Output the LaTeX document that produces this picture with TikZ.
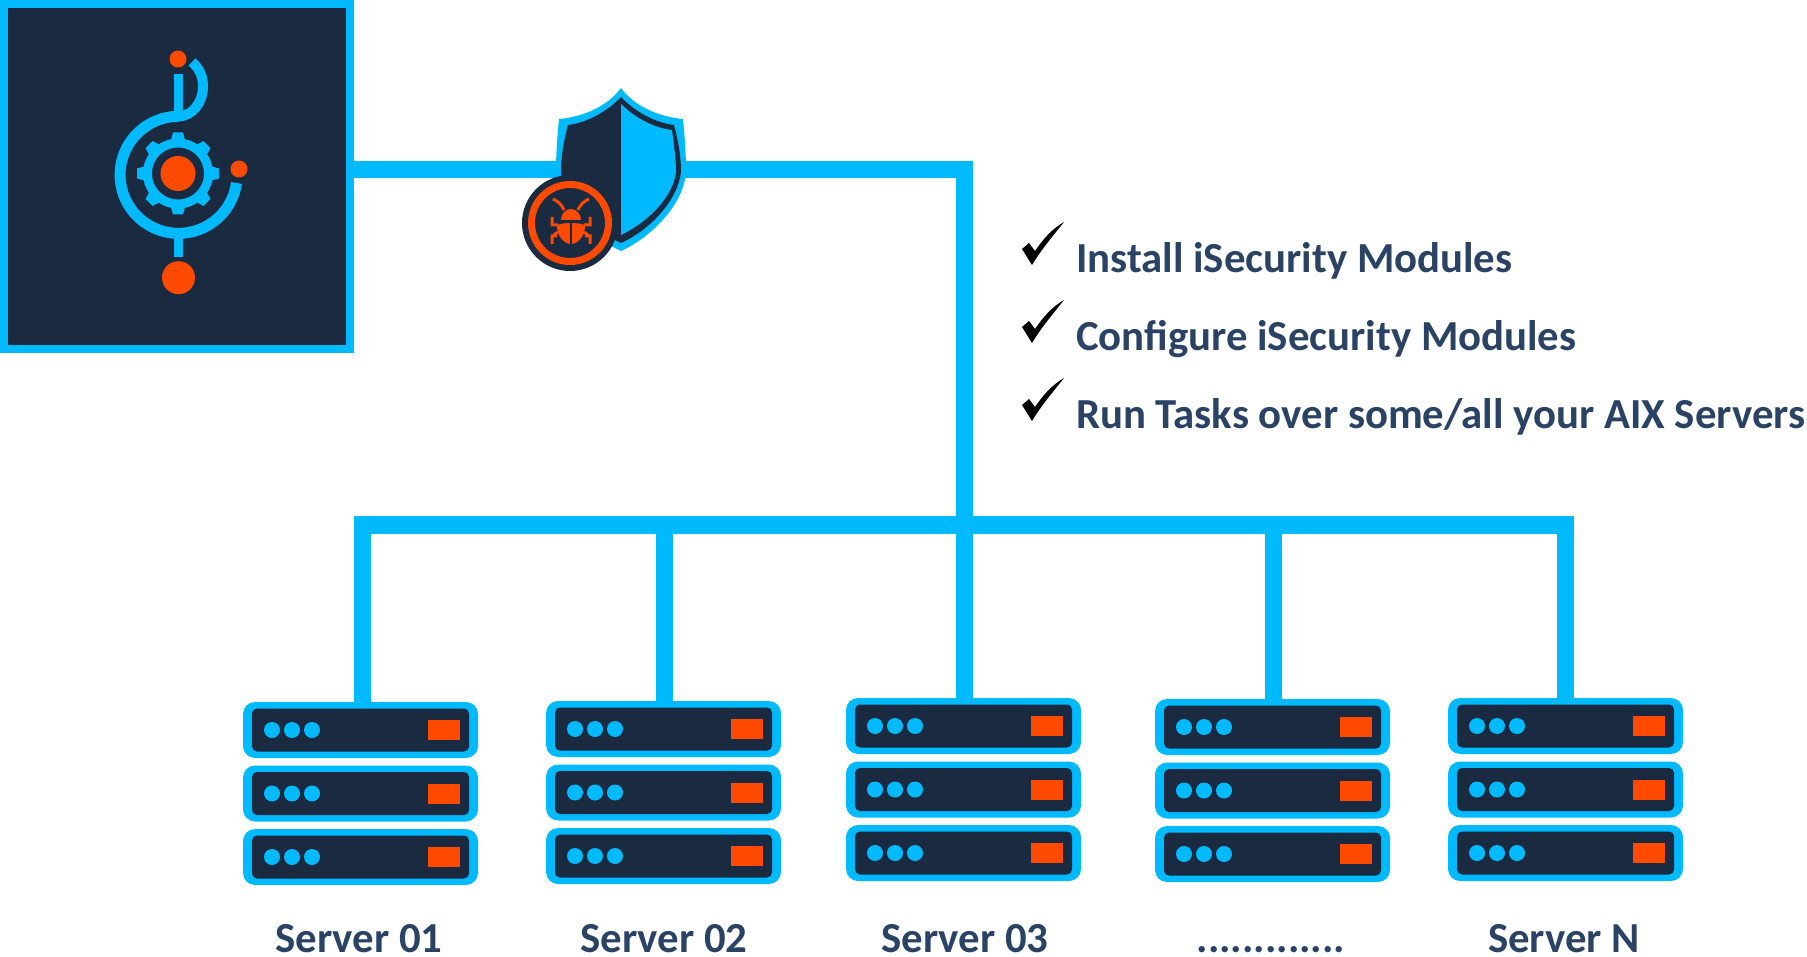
\documentclass[tikz,border=0pt]{standalone}
\usepackage{fontspec}
\setmainfont{Carlito}
\definecolor{linkblue}{HTML}{00BAFF}
\definecolor{navy}{HTML}{1A2A40}
\definecolor{alert}{HTML}{FF4A00}
\definecolor{caption}{HTML}{2A4365}

\begin{document}
\begin{tikzpicture}[x=1pt,y=-1pt,
        busline/.style={draw=linkblue,line width=17.5pt,miter limit=10},
        caption/.style={font=\fontsize{42.8}{48}\selectfont\bfseries,text=caption,inner sep=0pt,text depth=0pt},
        every node/.append style={inner sep=0pt,outer sep=0pt},
        checkmark/.pic={\fill[black] (0,0) -- (7,-6) -- (13,2) .. controls (22,-11) and (30,-20) .. (42,-27)
            .. controls (30,-12) and (19,1) .. (10,16) -- cycle;}]
      \tikzstyle{rack} = [fill=linkblue,rounded corners=12pt,minimum width=235pt,minimum height=56pt]
      \tikzstyle{rackface} = [fill=navy,rounded corners=5pt,minimum width=217pt,minimum height=43pt]
      \tikzstyle{lamp} = [circle,fill=linkblue,minimum size=16pt]
      \tikzstyle{slot} = [fill=alert,minimum width=32pt,minimum height=20pt]
      \useasboundingbox (0,0) rectangle (1807,957);

      \node (logo) [fill=navy,draw=linkblue,line width=8pt,minimum width=346pt,minimum height=345pt] at (177,176.5) {};
      \coordinate (linkstart) at (350,169.5);
      \coordinate (corner) at (964.5,169.5);
      \coordinate (busjoin) at (964.5,525);
      \draw[busline] (linkstart) -- (corner) -- (busjoin);

      \foreach \i/\cx/\cy/\tx in {1/360.5/730/362.5,2/663.5/729/664.5,3/963.5/726/964.5,4/1272.5/727/1273.5,5/1565.5/726/1565.5} {
        \coordinate (tap\i) at (\tx,525);
        \foreach \r/\dy in {a/0,b/63.5,c/127} {
          \node (srv\i\r) [rack] at (\cx,\cy+\dy) {};
          \node (face\i\r) [rackface] at (srv\i\r.center) {};
          \node (lampx\i\r) [lamp,xshift=-88.5pt] at (srv\i\r.center) {};
          \node (lampy\i\r) [lamp,xshift=-68.5pt] at (srv\i\r.center) {};
          \node (lampz\i\r) [lamp,xshift=-48.5pt] at (srv\i\r.center) {};
          \node (slot\i\r) [slot,xshift=83pt] at (srv\i\r.center) {};
        }
      }
      \draw[busline] (tap1 |- srv1a.north) -- (tap1) -- (tap5) -- (tap5 |- srv5a.north);
      \draw[busline] (tap2) -- (tap2 |- srv2a.north);
      \draw[busline] (tap3) -- (tap3 |- srv3a.north);
      \draw[busline] (tap4) -- (tap4 |- srv4a.north);

      \node (srvname1) [caption,anchor=base] at (359,952.5) {Server 01};
      \node (srvname2) [caption,anchor=base] at (664,952.5) {Server 02};
      \node (srvname3) [caption,anchor=base] at (965,952.5) {Server 03};
      \node (srvname4) [caption,anchor=base] at (1271,952.5) {.............};
      \node (srvname5) [caption,anchor=base] at (1564,952.5) {Server N};

      \node (taskone) [caption,anchor=base west] at (1076,273) {Install iSecurity Modules};
      \node (tasktwo) [caption,anchor=base west] at (1076,351) {Configure iSecurity Modules};
      \node (taskthree) [caption,anchor=base west] at (1076,428.5) {Run Tasks over some/all your AIX Servers};
      \pic at (1022,249) {checkmark};
      \pic at (1022,327) {checkmark};
      \pic at (1022,405) {checkmark};

      % logo
      \draw[linkblue,line width=11pt] (236.5,183) arc[start angle=8,end angle=270,x radius=58.5,y radius=58.5];
      \draw[linkblue,line width=10pt] (178,116.5) .. controls (192,116.5) and (203,103) .. (203,86) .. controls (203,76) and (199,68) .. (192,62);
      \fill[linkblue] (174,74) rectangle (183,112);
      \fill[linkblue] (174,238) rectangle (183,257);
      \draw[linkblue,line width=9pt] (178,173.5) circle[radius=30.5];
      \foreach \a in {0,45,...,315}
        \fill[linkblue,shift={(178,173.5)},rotate=\a] (-7.5,-32) -- (-5,-41) -- (5,-41) -- (7.5,-32) -- cycle;
      \node (hub) [circle,fill=alert,minimum size=35pt] at (178,173.5) {};
      \node (dottop) [circle,fill=alert,minimum size=17pt] at (178,59) {};
      \node (dotright) [circle,fill=alert,minimum size=17pt] at (239,169) {};
      \node (dotbottom) [circle,fill=alert,minimum size=33pt] at (178.5,277.7) {};

      % shield
      \fill[linkblue] (621,88) .. controls (635,107) and (660,117) .. (683,119) .. controls (685,140) and (686,155) .. (686,172)
        .. controls (684,205) and (650,238) .. (621,251) .. controls (592,238) and (558,205) .. (556,172)
        .. controls (556,155) and (557,140) .. (559,119) .. controls (582,117) and (607,107) .. cycle;
      \fill[navy] (621,97) .. controls (635,112) and (656,123) .. (674,125) .. controls (678,140) and (681,155) .. (681,172)
        .. controls (678,200) and (650,230) .. (621,243) .. controls (592,230) and (564,200) .. (561,172)
        .. controls (561,155) and (564,140) .. (568,125) .. controls (586,123) and (607,112) .. cycle;
      \fill[linkblue] (621,104) .. controls (635,118) and (654,128) .. (672,130) .. controls (674,145) and (676,160) .. (676,172)
        .. controls (673,197) and (648,222) .. (621,235) -- cycle;
      \node (bugdisc) [circle,fill=navy,minimum size=96pt] at (570,223) {};
      \node (bugring) [circle,draw=alert,line width=7pt,minimum size=77pt] at (570,223) {};
      \fill[alert] (561,220) arc[start angle=180,end angle=0,x radius=10,y radius=-11] -- cycle;
      \fill[alert] (557,226) .. controls (557,222) and (585,222) .. (585,226) .. controls (585,236) and (578,244) .. (571,244)
        .. controls (564,244) and (557,236) .. (557,226) -- cycle;
      \draw[navy,line width=2pt] (571,222) -- (571,245);
      \draw[alert,line width=3pt]
        (552,217) -- (552,225) -- (558,225) (554,235) -- (558,232) (552,244) -- (552,236) -- (557,236)
        (590,217) -- (590,225) -- (584,225) (588,235) -- (584,232) (590,244) -- (590,236) -- (585,236)
        (553,199) .. controls (558,201) and (562,205) .. (564,210)
        (589,199) .. controls (584,201) and (580,205) .. (578,210);
    \end{tikzpicture}
\end{document}
